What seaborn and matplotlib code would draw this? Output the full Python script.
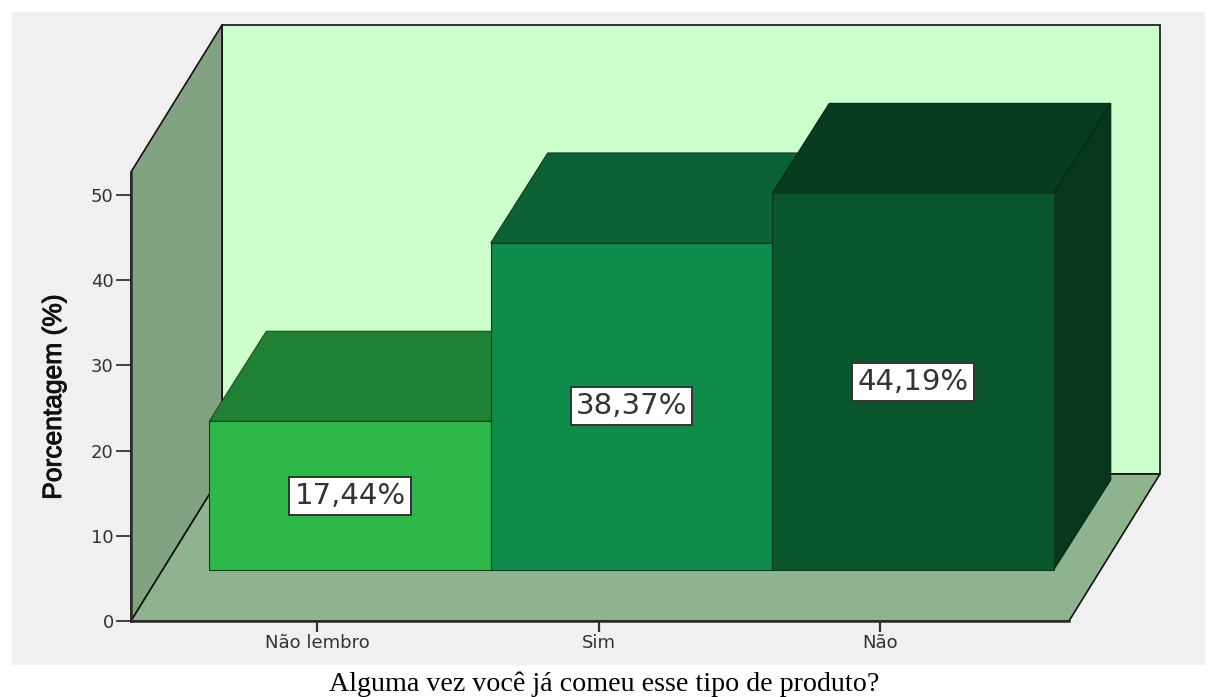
import matplotlib
matplotlib.use("Agg")
import matplotlib.pyplot as plt
import matplotlib.patheffects as pe
from matplotlib.patches import Polygon, Rectangle
import pandas as pd
import seaborn as sns

# Survey responses (percent of answers)
categories = ["Não lembro", "Sim", "Não"]
percentages = [17.44, 38.37, 44.19]
value_labels = ["17,44%", "38,37%", "44,19%"]
y_ticks = [0, 10, 20, 30, 40, 50]
bar_colors = ["#2eb84a", "#0f8c4b", "#0a562d"]

W, H = 1208, 697
PX_PER_UNIT = 8.52       # vertical pixels per percentage point
PX_PER_CAT = 281.5       # horizontal pixels per category

sns.set_theme(style="white")
fig = plt.figure(figsize=(W / 100, H / 100), dpi=100, facecolor="white")

# Grey panel behind the chart
fig.add_artist(Rectangle((12 / W, 1 - 665 / H), (1205 - 12) / W, (665 - 12) / H,
                         transform=fig.transFigure, facecolor="#f0f0f0",
                         edgecolor="none", zorder=-10))

# Axes box is the front plane of the floor and left wall
left, right, top, bottom = 131, 1069, 172, 621
ax = fig.add_axes([left / W, 1 - bottom / H, (right - left) / W, (bottom - top) / H])
ax.patch.set_alpha(0)

df = pd.DataFrame({"categoria": categories, "pct": percentages})

# Bars stand on the floor, set back from the front edge
floor_inset = 6.0
sns.barplot(data=df, x="categoria", y="pct", hue="categoria", palette=bar_colors,
            width=1, gap=0, bottom=floor_inset, legend=False, saturation=1,
            edgecolor="#0b3a1e", linewidth=0.8, ax=ax)

x0 = (left - 350) / PX_PER_CAT
x1 = (right - 350) / PX_PER_CAT
y1 = (bottom - top) / PX_PER_UNIT
ax.set_xlim(x0, x1)
ax.set_ylim(0, y1)

# Room depth (walls and floor) and bar depth, in data units
room_dx, room_dy = 91 / PX_PER_CAT, 147 / PX_PER_UNIT
bar_dx, bar_dy = 57 / PX_PER_CAT, 90 / PX_PER_UNIT


def add_face(points, color, z, edge="#111111", lw=1.2):
    ax.add_patch(Polygon(points, closed=True, facecolor=color, edgecolor=edge,
                         linewidth=lw, clip_on=False, zorder=z, joinstyle="miter"))


add_face([(x0 + room_dx, room_dy), (x1 + room_dx, room_dy),
          (x1 + room_dx, y1 + room_dy), (x0 + room_dx, y1 + room_dy)], "#cdffcd", 0.2)
add_face([(x0, 0), (x0 + room_dx, room_dy), (x0 + room_dx, y1 + room_dy), (x0, y1)],
         "#82a382", 0.3)
add_face([(x0, 0), (x1, 0), (x1 + room_dx, room_dy), (x0 + room_dx, room_dy)],
         "#8fb38f", 0.4)


def shade(hex_color, factor):
    r, g, b = matplotlib.colors.to_rgb(hex_color)
    return (r * factor, g * factor, b * factor)


# Depth faces and value labels for each bar, painted left to right
for i, (value, color, text) in enumerate(zip(percentages, bar_colors, value_labels)):
    front = next(p for p in ax.patches
                 if isinstance(p, Rectangle) and abs(p.get_x() + p.get_width() / 2 - i) < 0.01)
    front.set_zorder(2 + 2 * i + 1)
    xl, xr = i - 0.5, i + 0.5
    yb, yt = floor_inset, floor_inset + value
    edge = shade(color, 0.45)
    add_face([(xl, yt), (xr, yt), (xr + bar_dx, yt + bar_dy), (xl + bar_dx, yt + bar_dy)],
             shade(color, 0.7), 2 + 2 * i, edge=edge, lw=0.8)
    add_face([(xr, yb), (xr + bar_dx, yb + bar_dy), (xr + bar_dx, yt + bar_dy), (xr, yt)],
             shade(color, 0.65), 2 + 2 * i, edge=edge, lw=0.8)
    ax.text(i, floor_inset + value / 2, text, ha="center", va="center", fontsize=21,
            color="#333333", family="DejaVu Sans", zorder=10,
            bbox=dict(boxstyle="square,pad=0.17", facecolor="white",
                      edgecolor="#333333", linewidth=1.4))

# Axes furniture
for side in ("top", "right"):
    ax.spines[side].set_visible(False)
for side in ("left", "bottom"):
    ax.spines[side].set_color("#2a2a2a")
    ax.spines[side].set_linewidth(1.8)
    ax.spines[side].set_zorder(1)

ax.set_yticks(y_ticks)
ax.set_xticks([i - 33 / PX_PER_CAT for i in range(len(categories))], categories)
ax.tick_params(axis="y", left=True, direction="out", length=11, width=1.3, color="#333333",
               pad=1.5, labelsize=13, labelcolor="#333333")
ax.tick_params(axis="x", bottom=True, direction="out", length=8, width=1.6, color="#333333",
               pad=1, labelsize=13, labelcolor="#333333")
for lab in ax.get_xticklabels() + ax.get_yticklabels():
    lab.set_family("DejaVu Sans")

ax.set_xlabel("")
ax.set_ylabel("")
ylab = fig.text(54 / W, 1 - 397 / H, "Porcentagem (%)", rotation=90, ha="center", va="center",
                fontsize=19, family="Liberation Sans", color="#111111")
ylab.set_path_effects([pe.withStroke(linewidth=0.7, foreground="#111111")])
fig.text(604 / W, 1 - 684 / H, "Alguma vez você já comeu esse tipo de produto?",
         ha="center", va="center", fontsize=20.2, family="Liberation Serif", color="black")

fig.savefig("out.png", dpi=100, facecolor="white")
